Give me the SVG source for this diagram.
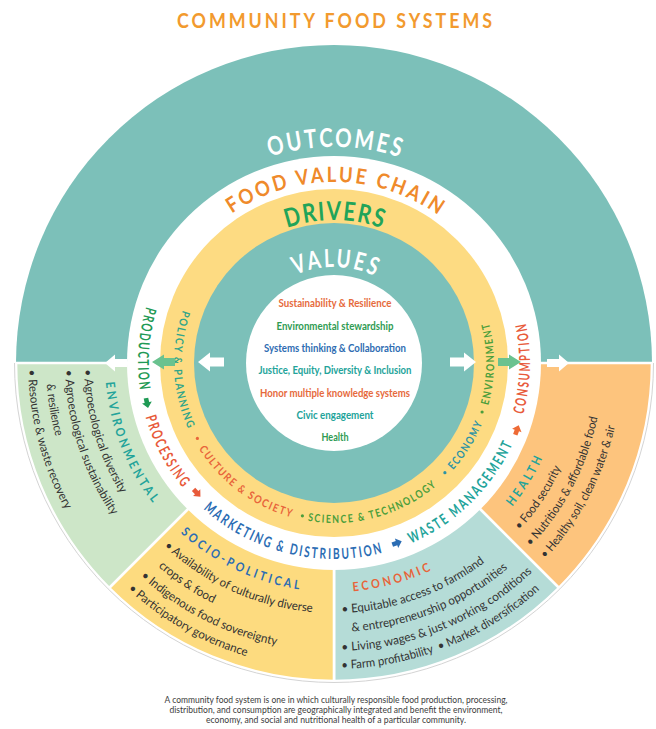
<svg xmlns="http://www.w3.org/2000/svg" xmlns:xlink="http://www.w3.org/1999/xlink" width="656" height="729" viewBox="0 0 656 729">
  <style>
    .lbl { font-family: Lato, "Open Sans", "Liberation Sans", sans-serif; font-weight: 700; }
    .chain { font-size: 15px; letter-spacing: 3px; }
    .drv { font-size: 11px; letter-spacing: 2px; }
    .seg { font-size: 12.5px; letter-spacing: 3.5px; }
    .bul { font-family: Lato, "Open Sans", "Liberation Sans", sans-serif; font-size: 12px; fill: #333333; }
    .val { font-family: Lato, "Open Sans", "Liberation Sans", sans-serif; font-weight: 700; font-size: 11.5px; text-anchor: middle; }
    .cap { font-family: Lato, "Open Sans", "Liberation Sans", sans-serif; font-size: 9px; fill: #3c3c3c; text-anchor: middle; }
  </style>
  <defs>
    <!-- circular guides: counter-clockwise from the top (tops of letters face the centre) -->
    <path id="p196" d="M334,167 A196,196 0 1 0 334,559 A196,196 0 1 0 334,167"/>
    <path id="p160" d="M334,203 A160,160 0 1 0 334,523 A160,160 0 1 0 334,203"/>
    <path id="p229" d="M334,134 A229,229 0 1 0 334,592 A229,229 0 1 0 334,134"/>
    <path id="p250" d="M334,113 A250,250 0 1 0 334,613 A250,250 0 1 0 334,113"/>
    <path id="p269" d="M334,94 A269,269 0 1 0 334,632 A269,269 0 1 0 334,94"/>
    <path id="p288" d="M334,75 A288,288 0 1 0 334,651 A288,288 0 1 0 334,75"/>
    <path id="p306" d="M334,57 A306,306 0 1 0 334,669 A306,306 0 1 0 334,57"/>
    <!-- upper arcs, clockwise from the left -->
    <path id="t216" d="M118,363 A216,216 0 0 1 550,363"/>
    <path id="t181" d="M153,363 A181,181 0 0 1 515,363"/>
    <path id="t143" d="M191,363 A143,143 0 0 1 477,363"/>
    <path id="t96" d="M238,363 A96,96 0 0 1 430,363"/>
    <!-- block arrows, tip at the origin, pointing +x -->
    <path id="arr-out" d="M0,0 L-10,-8.5 L-10,-4 L-22,-4 L-22,4 L-10,4 L-10,8.5 Z"/>
    <path id="arr-in" d="M0,0 L-12,-9.5 L-12,-4.5 L-26,-4.5 L-26,4.5 L-12,4.5 L-12,9.5 Z"/>
    <path id="arr-grn" d="M0,0 L-12,-7.5 L-12,-4 L-23,-4 L-23,4 L-12,4 L-12,7.5 Z"/>
    <path id="arr-sm" d="M0,0 L-5.5,-5 L-5.5,-2.3 L-10,-2.3 L-10,2.3 L-5.5,2.3 L-5.5,5 Z"/>
  </defs>

  <rect width="656" height="729" fill="#ffffff"/>

  <text id="title" x="336" y="28" class="lbl" font-size="21" letter-spacing="3.5" fill="#f29a2e" text-anchor="middle" textLength="318" lengthAdjust="spacingAndGlyphs">COMMUNITY FOOD SYSTEMS</text>

  <!-- outcomes ring -->
  <g id="outcomes">
    <circle cx="334" cy="363" r="318" fill="#7cc0b9"/>
    <path d="M334,363 L652,363 A318,318 0 0 1 558.86,587.86 Z" fill="#fdc47d" stroke="#ffffff" stroke-width="2.6"/>
    <path d="M334,363 L558.86,587.86 A318,318 0 0 1 334,681 Z" fill="#b5dcd7" stroke="#ffffff" stroke-width="2.6"/>
    <path d="M334,363 L334,681 A318,318 0 0 1 109.14,587.86 Z" fill="#fddb7f" stroke="#ffffff" stroke-width="2.6"/>
    <path d="M334,363 L109.14,587.86 A318,318 0 0 1 16,363 Z" fill="#cde6c8" stroke="#ffffff" stroke-width="2.6"/>
    <path d="M14.5,363 A319.5,319.5 0 0 0 653.5,363" fill="none" stroke="#d4d4d4" stroke-width="1"/>
    <text class="lbl" font-size="26" letter-spacing="3" fill="#ffffff" text-anchor="middle"><textPath href="#t216" startOffset="50.28%" textLength="134" lengthAdjust="spacingAndGlyphs">OUTCOMES</textPath></text>
  </g>

  <!-- food value chain band -->
  <g id="food-value-chain">
    <circle cx="334" cy="363" r="207" fill="#ffffff"/>
    <text class="lbl" font-size="21" letter-spacing="3" fill="#ef8a2b" text-anchor="middle"><textPath href="#t181" startOffset="50.44%" textLength="222" lengthAdjust="spacingAndGlyphs">FOOD VALUE CHAIN</textPath></text>
  </g>

  <!-- drivers band -->
  <g id="drivers">
    <circle cx="334" cy="363" r="174" fill="#fddb82"/>
    <text class="lbl" font-size="26" letter-spacing="2" fill="#21a459" text-anchor="middle"><textPath href="#t143" startOffset="50.28%" textLength="98" lengthAdjust="spacingAndGlyphs">DRIVERS</textPath></text>
  </g>

  <!-- values -->
  <g id="values">
    <circle cx="334" cy="363" r="140" fill="#7cc0b9"/>
    <circle cx="334" cy="363" r="88" fill="#ffffff"/>
    <text class="lbl" font-size="25" letter-spacing="3" fill="#ffffff" text-anchor="middle"><textPath href="#t96" startOffset="50.75%" textLength="84" lengthAdjust="spacingAndGlyphs">VALUES</textPath></text>
    <text class="val" x="335" y="307" fill="#e66a3c" textLength="113" lengthAdjust="spacingAndGlyphs">Sustainability &amp; Resilience</text>
    <text class="val" x="335" y="330" fill="#2f9b52" textLength="117" lengthAdjust="spacingAndGlyphs">Environmental stewardship</text>
    <text class="val" x="335" y="352" fill="#2e6cb2" textLength="142" lengthAdjust="spacingAndGlyphs">Systems thinking &amp; Collaboration</text>
    <text class="val" x="335" y="374" fill="#22a39a" textLength="153" lengthAdjust="spacingAndGlyphs">Justice, Equity, Diversity &amp; Inclusion</text>
    <text class="val" x="335" y="397" fill="#e66a3c" textLength="150" lengthAdjust="spacingAndGlyphs">Honor multiple knowledge systems</text>
    <text class="val" x="335" y="419" fill="#22a39a" textLength="77" lengthAdjust="spacingAndGlyphs">Civic engagement</text>
    <text class="val" x="335" y="441" fill="#2f9b52" textLength="27" lengthAdjust="spacingAndGlyphs">Health</text>
  </g>

  <!-- food value chain stages -->
  <g id="chain-stages" class="lbl chain" text-anchor="middle">
    <text fill="#1f9a55"><textPath href="#p196" startOffset="23.86%" textLength="86" lengthAdjust="spacingAndGlyphs">PRODUCTION</textPath></text>
    <text fill="#e85a3a"><textPath href="#p196" startOffset="32.78%" textLength="82" lengthAdjust="spacingAndGlyphs">PROCESSING</textPath></text>
    <text fill="#2b6db4"><textPath href="#p196" startOffset="46.25%" textLength="194" lengthAdjust="spacingAndGlyphs">MARKETING &amp; DISTRIBUTION</textPath></text>
    <text fill="#22a39a"><textPath href="#p196" startOffset="62.39%" textLength="147" lengthAdjust="spacingAndGlyphs">WASTE MANAGEMENT</textPath></text>
    <text fill="#e85a3a"><textPath href="#p196" startOffset="74.58%" textLength="94" lengthAdjust="spacingAndGlyphs">CONSUMPTION</textPath></text>
  </g>

  <!-- drivers -->
  <g id="driver-labels" class="lbl drv" text-anchor="middle">
    <text fill="#30a58a"><textPath href="#p160" startOffset="25.78%" textLength="123" lengthAdjust="spacingAndGlyphs">POLICY &amp; PLANNING</textPath></text>
    <text fill="#e8643a"><textPath href="#p160" startOffset="39.92%" textLength="119" lengthAdjust="spacingAndGlyphs">CULTURE &amp; SOCIETY</textPath></text>
    <text fill="#4b9e3b"><textPath href="#p160" startOffset="54.28%" textLength="139" lengthAdjust="spacingAndGlyphs">SCIENCE &amp; TECHNOLOGY</textPath></text>
    <text fill="#2c93a5"><textPath href="#p160" startOffset="66.17%" textLength="57" lengthAdjust="spacingAndGlyphs">ECONOMY</textPath></text>
    <text fill="#4b9e3b"><textPath href="#p160" startOffset="74.94%" textLength="85" lengthAdjust="spacingAndGlyphs">ENVIRONMENT</textPath></text>
    <circle cx="197.4" cy="438.4" r="1.6" fill="#e8643a"/>
    <circle cx="302.4" cy="515.8" r="1.6" fill="#4b9e3b"/>
    <circle cx="444.9" cy="472.7" r="1.6" fill="#2c93a5"/>
    <circle cx="482.1" cy="412.0" r="1.6" fill="#4b9e3b"/>
  </g>

  <!-- outcome segments -->
  <g id="environmental">
    <text class="lbl seg" fill="#22a39a" text-anchor="middle"><textPath href="#p229" startOffset="31.01%" textLength="134" lengthAdjust="spacingAndGlyphs">ENVIRONMENTAL</textPath></text>
    <text class="bul"><textPath href="#p250" startOffset="25.42%" textLength="131" lengthAdjust="spacingAndGlyphs">• Agroecological diversity</textPath></text>
    <text class="bul"><textPath href="#p269" startOffset="25.42%" textLength="155" lengthAdjust="spacingAndGlyphs">• Agroecological sustainability</textPath></text>
    <text class="bul"><textPath href="#p288" startOffset="26.17%" textLength="53" lengthAdjust="spacingAndGlyphs">&amp; resilience</textPath></text>
    <text class="bul"><textPath href="#p306" startOffset="25.36%" textLength="146" lengthAdjust="spacingAndGlyphs">• Resource &amp; waste recovery</textPath></text>
  </g>

  <g id="socio-political">
    <text class="lbl seg" fill="#2b6db4" text-anchor="middle"><textPath href="#p229" startOffset="43.03%" textLength="136" lengthAdjust="spacingAndGlyphs">SOCIO-POLITICAL</textPath></text>
    <text class="bul"><textPath href="#p250" startOffset="38.11%" textLength="165" lengthAdjust="spacingAndGlyphs">• Availability of culturally diverse</textPath></text>
    <text class="bul"><textPath href="#p269" startOffset="38.67%" textLength="66" lengthAdjust="spacingAndGlyphs">crops &amp; food</textPath></text>
    <text class="bul"><textPath href="#p288" startOffset="38.28%" textLength="154" lengthAdjust="spacingAndGlyphs">• Indigenous food sovereignty</textPath></text>
    <text class="bul"><textPath href="#p306" startOffset="38.25%" textLength="137" lengthAdjust="spacingAndGlyphs">• Participatory governance</textPath></text>
  </g>

  <g id="economic">
    <text class="lbl seg" fill="#e8643a" text-anchor="middle"><textPath href="#p229" startOffset="54.25%" textLength="84" lengthAdjust="spacingAndGlyphs">ECONOMIC</textPath></text>
    <text class="bul"><textPath href="#p250" startOffset="50.5%" textLength="154" lengthAdjust="spacingAndGlyphs">• Equitable access to farmland</textPath></text>
    <text class="bul"><textPath href="#p269" startOffset="51.06%" textLength="171" lengthAdjust="spacingAndGlyphs">&amp; entrepreneurship opportunities</textPath></text>
    <text class="bul"><textPath href="#p288" startOffset="50.42%" textLength="211" lengthAdjust="spacingAndGlyphs">• Living wages &amp; just working conditions</textPath></text>
    <text class="bul"><textPath href="#p306" startOffset="50.39%" textLength="218" lengthAdjust="spacingAndGlyphs">• Farm profitability &#160;• Market diversification</textPath></text>
  </g>

  <g id="health">
    <text class="lbl seg" fill="#22a39a" text-anchor="middle"><textPath href="#p229" startOffset="66.29%" textLength="60" lengthAdjust="spacingAndGlyphs">HEALTH</textPath></text>
    <text class="bul"><textPath href="#p250" startOffset="63.33%" textLength="75" lengthAdjust="spacingAndGlyphs">• Food security</textPath></text>
    <text class="bul"><textPath href="#p269" startOffset="63.06%" textLength="147" lengthAdjust="spacingAndGlyphs">• Nutritious &amp; affordable food</textPath></text>
    <text class="bul"><textPath href="#p288" startOffset="63.11%" textLength="151" lengthAdjust="spacingAndGlyphs">• Healthy soil, clean water &amp; air</textPath></text>
  </g>

  <!-- connectors: flow arrows -->
  <g id="connectors">
    <use href="#arr-out" transform="translate(105,363) rotate(180)" fill="#ffffff"/>
    <use href="#arr-out" transform="translate(569,363)" fill="#ffffff"/>
    <use href="#arr-in" transform="translate(198,362) rotate(180)" fill="#ffffff"/>
    <use href="#arr-in" transform="translate(476,362)" fill="#ffffff"/>
    <use href="#arr-grn" transform="translate(152,362) rotate(180)" fill="#6ac28f"/>
    <use href="#arr-grn" transform="translate(521,362)" fill="#6ac28f"/>
    <use href="#arr-sm" transform="translate(147,403) rotate(78) translate(5,0)" fill="#1f9a55"/>
    <use href="#arr-sm" transform="translate(197,493) rotate(46.5) translate(5,0)" fill="#e85a3a"/>
    <use href="#arr-sm" transform="translate(397,543) rotate(-19.3) translate(5,0)" fill="#2b6db4"/>
    <use href="#arr-sm" transform="translate(517,430) rotate(-69.9) translate(5,0)" fill="#ee6a35"/>
  </g>

  <g id="caption">
    <text class="cap" x="336" y="703" textLength="343" lengthAdjust="spacingAndGlyphs">A community food system is one in which culturally responsible food production, processing,</text>
    <text class="cap" x="336" y="713" textLength="333" lengthAdjust="spacingAndGlyphs">distribution, and consumption are geographically integrated and benefit the environment,</text>
    <text class="cap" x="336" y="723" textLength="260" lengthAdjust="spacingAndGlyphs">economy, and social and nutritional health of a particular community.</text>
  </g>
</svg>
